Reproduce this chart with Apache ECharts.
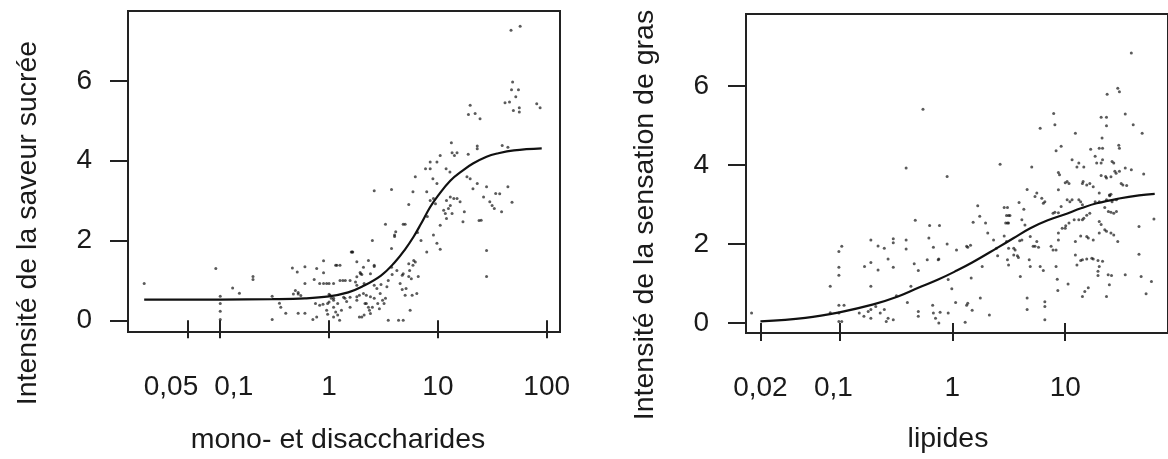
<!DOCTYPE html>
<html><head><meta charset="utf-8">
<script src="https://cdn.jsdelivr.net/npm/echarts@6/dist/echarts.min.js"></script>
<style>html,body{margin:0;padding:0;background:#fff}#c{width:1168px;height:459px}</style>
</head><body><div id="c"></div>
<script>
// ---- data ----
const sugarTicks = [0.05, 0.1, 1, 10, 100];
const sugarTickLabels = ['0,05', '0,1', '1', '10', '100'];
const fatTicks = [0.02, 0.1, 1, 10];
const fatTickLabels = ['0,02', '0,1', '1', '10'];
const yTicks = [0, 2, 4, 6];
const sugarXName = 'mono- et disaccharides';
const sugarYName = 'Intensité de la saveur sucrée';
const fatXName = 'lipides';
const fatYName = 'Intensité de la sensation de gras';

const sugarPoints = [
[0.02,0.92],[0.091,1.30],[0.1,0.6],[0.1,0.42],[0.1,0.23],[0.1,0.02],[0.13,0.81],[0.15,0.68],[0.2,1.10],[0.2,1.02],
[0.3,0.6],[0.3,0.02],[0.35,0.43],[0.36,0.33],[0.4,0.18],[0.46,1.31],[0.51,1.21],[0.6,1.34],[0.6,0.92],
[0.49,0.75],[0.52,0.66],[0.55,0.62],[0.52,0.18],[0.6,0.18],[0.71,0.02],[0.77,1.30],[0.89,1.49],[0.89,1.19],
[0.73,1.02],[0.89,0.92],[0.95,0.92],[1.0,0.92],[1.18,1.38],[0.75,0.42],[0.82,0.38],[0.88,0.4],[0.95,0.25],[0.97,0.15],
[1.0,0.65],[1.1,0.55],[0.77,0.08],[0.82,0.92],[1.26,1.38],[1.41,1.0],[1.36,0.58],[0.97,0.42],[1.1,0.33],[1.3,0.25],[1.25,0.0],[0.47,0.66],[0.52,0.70],
[1.02,0.63],[1.05,0.55],[1.1,0.5],[1.0,0.46],[1.15,0.21],[1.1,0.08],[1.2,0.13],[1.56,0.33],[1.4,0.55],[1.45,0.47],[1.2,0.42],
[2.2,0.42],[2.5,0.33],[2.35,0.25],[2.4,0.17],[2.0,0.08],[2.1,0.13],[2.8,0.42],[2.9,0.29],[3.2,0.42],[3.3,0.55],[5.56,0.25],
[3.5,0.0],[4.35,0.0],[4.8,0.0],
[2.95,0.67],[3.1,0.5],[2.2,0.63],[2.4,0.59],[2.6,0.55],[1.9,0.63],[1.8,0.59],
[6.4,0.67],[5.8,0.63],[5.0,0.63],[4.5,0.92],[5.1,0.8],[4.7,0.77],[3.5,1.0],[3.4,0.84],
[4.7,1.13],[4.8,1.17],[5.5,1.25],[5.4,1.1],[6.6,1.1],[5.7,1.04],[3.75,1.33],[5.4,1.42],[6.2,1.46],[5.9,1.38],
[1.1,0.92],[2.1,0.92],[2.6,0.88],[1.75,0.96],[1.8,0.88],[1.34,1.0],[1.26,1.0],[1.93,1.2],[2.0,1.15],
[1.15,1.38],[1.8,1.47],[2.3,1.5],[2.6,1.35],[1.6,1.71],[1.65,1.71],[2.5,2.0],[3.75,1.8],
[4.0,2.14],[4.0,2.1],[4.1,2.22],[3.3,2.41],[4.8,2.41],[5.0,2.41],[2.6,3.25],[3.75,3.28],
[7.9,1.71],[9.1,2.14],[9.8,1.93],[10.5,1.78],[28,1.75],[28,1.1],
[10.5,2.38],[12,2.55],[11.3,2.76],[11.7,2.68],[12.5,2.8],[13,2.88],[13.5,2.68],[17.5,2.72],[17,2.47],[25,2.51],
[8.5,3.0],[9.1,3.05],[9.5,2.92],[12,3.0],[13,3.09],[14,3.05],[15,3.05],[16,2.97],[30,2.97],[33,2.8],[38.5,2.72],
[5.4,2.9],[5.9,3.22],[7.9,3.22],[26.3,3.09],[37,3.17],[48,2.96],
[6.2,3.6],[9,3.55],[9.8,3.43],[18.5,3.6],[19.8,3.55],[23,3.43],[21,3.3],[28,3.35],[44,3.35],
[7.7,3.8],[8.5,3.8],[11.9,3.8],[12.9,3.72],[8.5,3.97],[9.8,3.97],
[10.5,4.13],[13.5,4.2],[15,4.2],[14.2,4.13],[19,4.16],[13.3,4.45],[23,4.37],[23,4.3],[39,4.38],[44,4.34],
[1.56,0.58],[1.8,0.5],[2.07,0.67],[2.14,0.42],[2.3,0.33],[1.9,0.08],
[1.56,1.0],[1.8,1.09],[1.95,1.17],[2.07,1.33],[2.4,1.17],[2.6,1.38],[1.63,1.71],
[2.75,0.8],[3.0,0.9],[3.8,1.15],[4.2,1.25],[6.0,1.5],[7.0,2.0],[6.5,2.2],[8.0,2.6],
[19.8,5.39],[19.1,5.16],[22,5.18],[24.4,5.05],[41.4,5.45],[49.4,5.26],[56,5.33],[56,5.22],[81,5.43],[87,5.33],
[47,7.27],[57,7.37],[48.6,5.97],[47.5,5.78],[55,5.78],[52,5.6],[45.5,5.47],
[34,3.18],[31.5,2.88],[23.9,2.5]
];
const sugarCurve = [[0.02,0.52],[0.1,0.52],[0.3,0.53],[0.6,0.55],[1,0.6],[1.5,0.7],[2,0.84],[3,1.12],[4,1.45],[5,1.78],[6,2.1],[7,2.42],[8.5,2.84],[10,3.12],[13,3.5],[17,3.76],[21,3.93],[28,4.1],[35,4.18],[50,4.26],[90,4.31]];

const fatPoints = [
[0.0167,0.25],[0.083,0.93],[0.099,1.81],[0.105,1.94],[0.099,1.41],[0.099,1.21],[0.083,0.26],[0.099,0.45],[0.099,0.25],[0.099,0.04],[0.105,0.04],[0.11,0.45],
[0.19,2.1],[0.22,1.95],[0.25,1.89],[0.27,1.62],[0.30,1.41],[0.30,2.13],[0.30,2.03],[0.167,1.43],[0.19,1.53],[0.22,1.34],[0.19,0.93],
[0.15,0.25],[0.165,0.17],[0.19,0.34],[0.21,0.42],[0.23,0.25],[0.25,0.34],[0.27,0.12],[0.26,0.04],[0.30,0.08],[0.19,0.12],[0.18,0.29],
[0.39,2.1],[0.39,1.87],[0.47,2.6],[0.46,1.5],[0.5,1.33],[0.39,3.92],[0.43,0.93],[0.32,0.69],[0.40,0.52],[0.50,0.29],[0.50,0.17],
[0.55,5.41],[0.63,2.47],[0.62,2.15],[0.68,1.92],[0.77,2.47],[0.75,1.6],[0.76,1.62],[0.60,1.6],
[0.67,0.45],[0.68,0.25],[0.71,0.12],[0.76,0.0],[0.78,0.27],[0.92,0.25],[0.90,3.71],[0.90,2.0],[0.92,1.1],[1.09,1.85],[0.99,0.87],[1.07,0.52],[1.30,0.02],[1.34,0.45],[1.37,0.5],[1.34,1.94],[1.45,1.97],[1.37,1.92],[1.5,0.32],[1.53,2.55],[1.47,1.14],[1.77,0.63],[1.68,2.97],[1.75,2.70],[1.84,1.43],[1.97,2.53],[2.06,2.28],[2.13,0.2],[2.32,2.1],[2.46,1.89],[2.52,1.7],[2.65,4.02],
[2.88,2.92],[3.08,2.92],[3.02,2.72],[3.15,2.72],[3.24,2.72],[2.97,2.53],[3.08,2.53],[3.15,2.53],
[2.88,2.2],[3.02,2.06],[3.15,1.89],[3.5,1.89],[3.6,1.85],[3.85,1.66],[3.08,1.6],[3.15,1.47],[3.5,1.72],[3.77,1.7],[3.95,2.08],[4.13,2.1],[3.9,3.05],[4.3,2.88],[4.6,3.38],[4.0,1.18],[4.6,0.63],[4.8,1.6],[4.9,1.43],[4.9,2.19],[4.13,2.61],[4.4,2.48],[5.05,3.95],
[5.4,3.2],[5.6,3.29],[6.2,3.16],[6.4,3.03],[6.6,3.07],[5.2,1.94],[5.4,1.94],[5.6,2.06],[5.8,1.92],[6.0,1.43],[6.4,1.33],[6.6,0.54],[6.6,0.42],[6.6,0.08],[4.6,0.34],[6.0,4.93],
[7.9,5.3],[8.1,5.02],[8.3,4.36],[9.2,4.47],[8.7,3.81],[8.9,3.75],[8.7,3.37],[10,3.55],[10.4,3.58],[10.8,3.53],
[7.8,2.78],[8.1,2.8],[8.7,2.79],[9.2,2.95],[10.4,3.12],[11,3.07],[11.5,3.12],[9.4,2.4],[10,2.4],[10.1,2.46],[10.8,2.53],[12,2.61],
[7.5,1.94],[7.8,1.85],[8.3,1.85],[8.7,2.1],[8.7,2.28],[8.3,1.43],[8.5,1.11],[8.6,0.82],[10.6,0.99],[12.3,1.72],
[12.3,4.8],[11.5,4.13],[12.7,3.95],[13.2,4.05],[14.6,3.95],[14.2,3.53],[14.4,3.58],[13.2,3.12],[13.7,3.07],[14.2,2.99],
[13.2,2.61],[14.2,2.61],[14.6,2.65],[15.5,2.73],[16.5,2.78],[12.3,2.06],[13.7,2.2],[15.5,2.19],[16,2.15],[17.7,2.1],
[12.7,1.47],[13.7,1.58],[14.2,1.6],[15.5,1.62],[17.2,1.64],[17.7,1.62],[19.5,1.58],[21.4,1.56],[19.5,1.31],[19.5,1.2],[20,1.43],
[14.2,0.67],[14.9,0.8],[16,0.89],[23.2,0.67],[24.6,0.97],[25.7,1.2],
[16.8,4.4],[18.4,4.22],[20,4.42],[21.4,4.42],[19,4.05],[20.8,4.05],[21.4,4.13],[21.2,4.68],[20.8,5.21],[23.2,5.21],[23.2,4.99],[23.5,5.79],[29.2,5.94],[30.2,5.85],[29.8,4.5],[30.2,4.42],
[26,4.09],[26.9,4.05],[27.5,3.84],[28.2,3.79],[30.2,3.84],[31.3,3.53],[32.4,3.49],[20.8,3.73],[22.8,3.71],[23.2,3.67],[25.4,3.70],[16.5,3.53],[17.7,3.45],[15.5,3.49],
[20,3.29],[24.6,3.24],[25.4,3.26],[24.8,3.22],[18.4,3.07],[20,3.07],[23.2,3.12],[26,3.07],[28.4,3.12],[22.4,2.92],[24.1,2.82],[25.4,2.8],[26.9,2.78],[28.4,2.82],
[20,2.57],[20.8,2.49],[22.4,2.36],[20,2.28],[23.2,2.32],[25.4,2.28],[26.9,2.23],[29.2,2.06],
[34,3.92],[38.5,3.88],[35,3.48],[38.5,6.83],[34,5.29],[40,5.02],[48,4.8],[49.5,3.77],[45,1.74],[45,2.44],[61,2.63],[52,0.74],[47,1.18],[58,1.05],[34,1.22],[24,1.22]
];
const fatCurve = [[0.02,0.04],[0.05,0.13],[0.1,0.27],[0.2,0.47],[0.33,0.67],[0.5,0.89],[0.75,1.1],[1.05,1.3],[1.5,1.53],[2.5,1.9],[3.5,2.15],[4.9,2.4],[7,2.6],[9.7,2.74],[14,2.91],[19,3.03],[30,3.15],[45,3.23],[62,3.27]];

// ---- chart ----
const FONT = "'Liberation Sans', Arial, sans-serif";
const INK = '#1a1a1a';
function labelFmt(ticks, labels) {
  return function (v) {
    let best = 0, bd = Infinity;
    ticks.forEach((t, i) => { const d = Math.abs(Math.log(t) - Math.log(v)); if (d < bd) { bd = d; best = i; } });
    return '{t' + best + '|' + labels[best] + '}';
  };
}
function richFor(n, pads) {
  const r = {};
  for (let i = 0; i < n; i++) {
    r['t' + i] = { fontSize: 28, fontFamily: FONT, color: INK, padding: pads[i] || [0, 0, 0, 0] };
  }
  return r;
}
function xAxisFor(grid, min, max, ticks, labels, pads) {
  return {
    type: 'log', gridIndex: grid, min: min, max: max, logBase: 10,
    axisLine: { show: false },
    splitLine: { show: false }, minorTick: { show: false },
    axisTick: { show: true, length: 18, inside: false, customValues: ticks, lineStyle: { color: '#222', width: 2 } },
    axisLabel: { show: true, margin: 41, customValues: ticks, formatter: labelFmt(ticks, labels),
      fontSize: 28, fontFamily: FONT, color: INK, rich: richFor(ticks.length, pads), hideOverlap: false }
  };
}
function yAxisFor(grid, min, max, margin) {
  return {
    type: 'value', gridIndex: grid, min: min, max: max,
    axisLine: { show: false }, splitLine: { show: false },
    axisTick: { show: true, length: 18, customValues: yTicks, lineStyle: { color: '#222', width: 2 } },
    axisLabel: { show: true, margin: margin, customValues: yTicks, fontSize: 28, fontFamily: FONT, color: INK }
  };
}
const chart = echarts.init(document.getElementById('c'), null, { renderer: 'canvas' });
chart.setOption({
  animation: false,
  backgroundColor: '#ffffff',
  grid: [
    { left: 128, top: 11, width: 432, height: 321, show: true, borderColor: '#222', borderWidth: 2, backgroundColor: 'transparent' },
    { left: 746, top: 14, width: 426, height: 319, show: true, borderColor: '#222', borderWidth: 2, backgroundColor: 'transparent' }
  ],
  xAxis: [
    xAxisFor(0, 0.0142, 132.5, sugarTicks, sugarTickLabels, [[0, 33, 0, 0], [0, 0, 0, 27]]),
    xAxisFor(1, 0.0149, 81.3, fatTicks, fatTickLabels, [null, [0, 12, 0, 0]])
  ],
  yAxis: [ yAxisFor(0, -0.293, 7.752, 36), yAxisFor(1, -0.253, 7.82, 37) ],
  series: [
    { type: 'scatter', xAxisIndex: 0, yAxisIndex: 0, data: sugarPoints, symbolSize: 3,
      itemStyle: { color: 'rgba(15,15,15,0.85)' }, silent: true },
    { type: 'line', xAxisIndex: 0, yAxisIndex: 0, data: sugarCurve, smooth: 0.4, showSymbol: false,
      lineStyle: { color: '#111', width: 2.2 }, silent: true },
    { type: 'scatter', xAxisIndex: 1, yAxisIndex: 1, data: fatPoints, symbolSize: 3,
      itemStyle: { color: 'rgba(15,15,15,0.85)' }, silent: true },
    { type: 'line', xAxisIndex: 1, yAxisIndex: 1, data: fatCurve, smooth: 0.4, showSymbol: false,
      lineStyle: { color: '#111', width: 2.2 }, silent: true }
  ],
  graphic: [
    { type: 'text', x: 28, y: 223, rotation: Math.PI / 2,
      style: { text: sugarYName, fontSize: 28.5, fontFamily: FONT, fill: INK, align: 'center', verticalAlign: 'middle', textAlign: 'center', textVerticalAlign: 'middle' } },
    { type: 'text', x: 645, y: 215, rotation: Math.PI / 2,
      style: { text: fatYName, fontSize: 28.5, fontFamily: FONT, fill: INK, align: 'center', verticalAlign: 'middle', textAlign: 'center', textVerticalAlign: 'middle' } },
    { type: 'text', x: 338, y: 440,
      style: { text: sugarXName, fontSize: 28.5, fontFamily: FONT, fill: INK, align: 'center', verticalAlign: 'middle', textAlign: 'center', textVerticalAlign: 'middle' } },
    { type: 'text', x: 948, y: 439,
      style: { text: fatXName, fontSize: 28.5, fontFamily: FONT, fill: INK, align: 'center', verticalAlign: 'middle', textAlign: 'center', textVerticalAlign: 'middle' } }
  ]
});
</script></body></html>
